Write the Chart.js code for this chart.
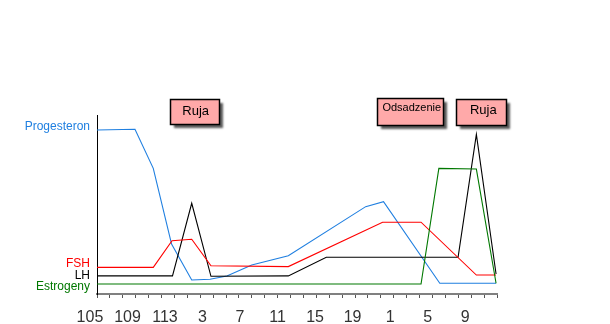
<!DOCTYPE html>
<html>
<head>
<meta charset="utf-8">
<script src="https://cdn.jsdelivr.net/npm/chart.js@4"></script>
<style>
  body { margin: 0; background: #fff; }
</style>
</head>
<body>
<canvas id="chart" width="610" height="324"></canvas>
<script>
// ========================
//    data
// ========================

// x axis: day labels every 4 days (gestation -> lactation -> after weaning)
const dayLabels = ['105', '109', '113', '3', '7', '11', '15', '19', '1', '5', '9'];

// hormone curves, x = days from the "105" label, y = relative level
const progesteronX = [0.75, 4.8, 6.75, 8.7, 10.85, 12.8, 14.6, 17.25, 21.15, 29.4, 31.3, 37.3, 43.3];
const progesteronY = [91.6, 92, 70.2, 27.9, 7.8, 8.2, 10.1, 16.2, 21.4, 48.8, 51.6, 6, 6];

const fshX = [0.75, 6.75, 8.75, 10.85, 12.9, 21.15, 31.2, 35.3, 41.2, 43.3];
const fshY = [14.9, 14.9, 29.8, 30.6, 15.8, 15.3, 40.1, 40.1, 10.6, 10.6];

const lhX = [0.75, 8.8, 10.85, 12.9, 21.15, 25.2, 39.25, 41.2, 43.3];
const lhY = [10.1, 10.1, 50.7, 9.9, 10.1, 20.5, 20.5, 89.2, 11.2];

const estrogenyX = [0.75, 35.3, 37.2, 41.2, 43.3];
const estrogenyY = [5.6, 5.6, 70.2, 69.8, 6];

// names on the left side and the level they sit at
const seriesNames = ['Progesteron', 'FSH', 'LH', 'Estrogeny'];
const seriesNameLevels = [93.5, 16.8, 10.2, 4.1];

// events above the plot
const eventNames = ['Ruja', 'Odsadzenie', 'Ruja'];
const eventDays = [11.17, 34.1, 41.67];

// ========================
//    styles
// ========================
const FONT = '"Liberation Sans", Arial, sans-serif';
const seriesColors = ['#1f7fe0', '#ff0000', '#000000', '#007800'];
const xMin = 0.75, xMax = 43.4;
const eventLevel = 101.8;
const eventStyle = [
  { w: 49, h: 25, size: 13, dx: 1, dy: 0 },
  { w: 66, h: 27, size: 11, dx: 2, dy: -3.5 },
  { w: 50, h: 26, size: 13, dx: 2.5, dy: -1.5 }
];

const toPoints = (xs, ys) => xs.map((x, i) => ({ x: x, y: ys[i] }));

function line(label, xs, ys, color) {
  return {
    label: label,
    data: toPoints(xs, ys),
    borderColor: color,
    borderWidth: 1.1,
    pointRadius: 0,
    tension: 0,
    fill: false
  };
}

// pink boxes with shadow
const eventBoxes = {
  id: 'eventBoxes',
  afterDraw(chart) {
    const { ctx } = chart;
    const x = chart.scales.x, y = chart.scales.y;
    eventNames.forEach((name, i) => {
      const st = eventStyle[i];
      const cx = x.getPixelForValue(eventDays[i]);
      const cy = y.getPixelForValue(eventLevel);
      const left = Math.round(cx - st.w / 2) + 0.5;
      const top = Math.round(cy - st.h / 2) + 0.5;
      ctx.save();
      ctx.shadowColor = 'rgba(0,0,0,0.65)';
      ctx.shadowOffsetX = 3;
      ctx.shadowOffsetY = 3;
      ctx.shadowBlur = 2;
      ctx.fillStyle = '#ffa9a9';
      ctx.fillRect(left, top, st.w, st.h);
      ctx.restore();
      ctx.save();
      ctx.strokeStyle = '#000';
      ctx.lineWidth = 1.5;
      ctx.strokeRect(left, top, st.w, st.h);
      ctx.fillStyle = '#000';
      ctx.font = st.size + 'px ' + FONT;
      ctx.textAlign = 'center';
      ctx.textBaseline = 'middle';
      ctx.fillText(name, cx + st.dx, cy + st.dy);
      ctx.restore();
    });
  }
};

new Chart(document.getElementById('chart'), {
  type: 'line',
  data: {
    datasets: [
      line('Estrogeny', estrogenyX, estrogenyY, seriesColors[3]),
      line('FSH', fshX, fshY, seriesColors[1]),
      line('LH', lhX, lhY, seriesColors[2]),
      line('Progesteron', progesteronX, progesteronY, seriesColors[0])
    ]
  },
  options: {
    responsive: false,
    animation: false,
    layout: { padding: { top: 115, right: 113, left: 0, bottom: 0 } },
    plugins: { legend: { display: false }, tooltip: { enabled: false } },
    scales: {
      x: {
        type: 'linear',
        position: 'bottom',
        weight: 0,
        min: xMin,
        max: xMax,
        grid: { drawOnChartArea: false, drawTicks: true, tickLength: 4, color: '#555' },
        border: { color: '#808080', width: 2 },
        ticks: { display: false, autoSkip: false },
        afterBuildTicks: s => {
          const ticks = [];
          for (let k = 0; k <= 31; k++) ticks.push({ value: xMin + k * (xMax - xMin) / 31 });
          s.ticks = ticks;
        },
        afterFit: s => { s.height = 5; }
      },
      x2: {
        type: 'linear',
        position: 'bottom',
        weight: 1,
        min: xMin,
        max: xMax,
        grid: { display: false, drawTicks: false },
        border: { display: false },
        ticks: {
          autoSkip: false,
          maxRotation: 0,
          minRotation: 0,
          padding: 9,
          color: '#333',
          font: { size: 16, family: FONT },
          callback: (v, i) => dayLabels[i]
        },
        afterBuildTicks: s => { s.ticks = dayLabels.map((_, i) => ({ value: i * 4 })); },
        afterFit: s => { s.height = 25; }
      },
      y: {
        min: 0,
        max: 100,
        grid: { display: false, drawTicks: false },
        border: { color: '#000', width: 1 },
        ticks: {
          autoSkip: false,
          padding: 7,
          font: { size: 12, family: FONT },
          color: c => seriesColors[c.index],
          callback: (v, i) => seriesNames[i]
        },
        afterBuildTicks: s => { s.ticks = seriesNameLevels.map(v => ({ value: v })); },
        afterFit: s => { s.width = 97; }
      }
    }
  },
  plugins: [eventBoxes]
});
</script>
</body>
</html>
